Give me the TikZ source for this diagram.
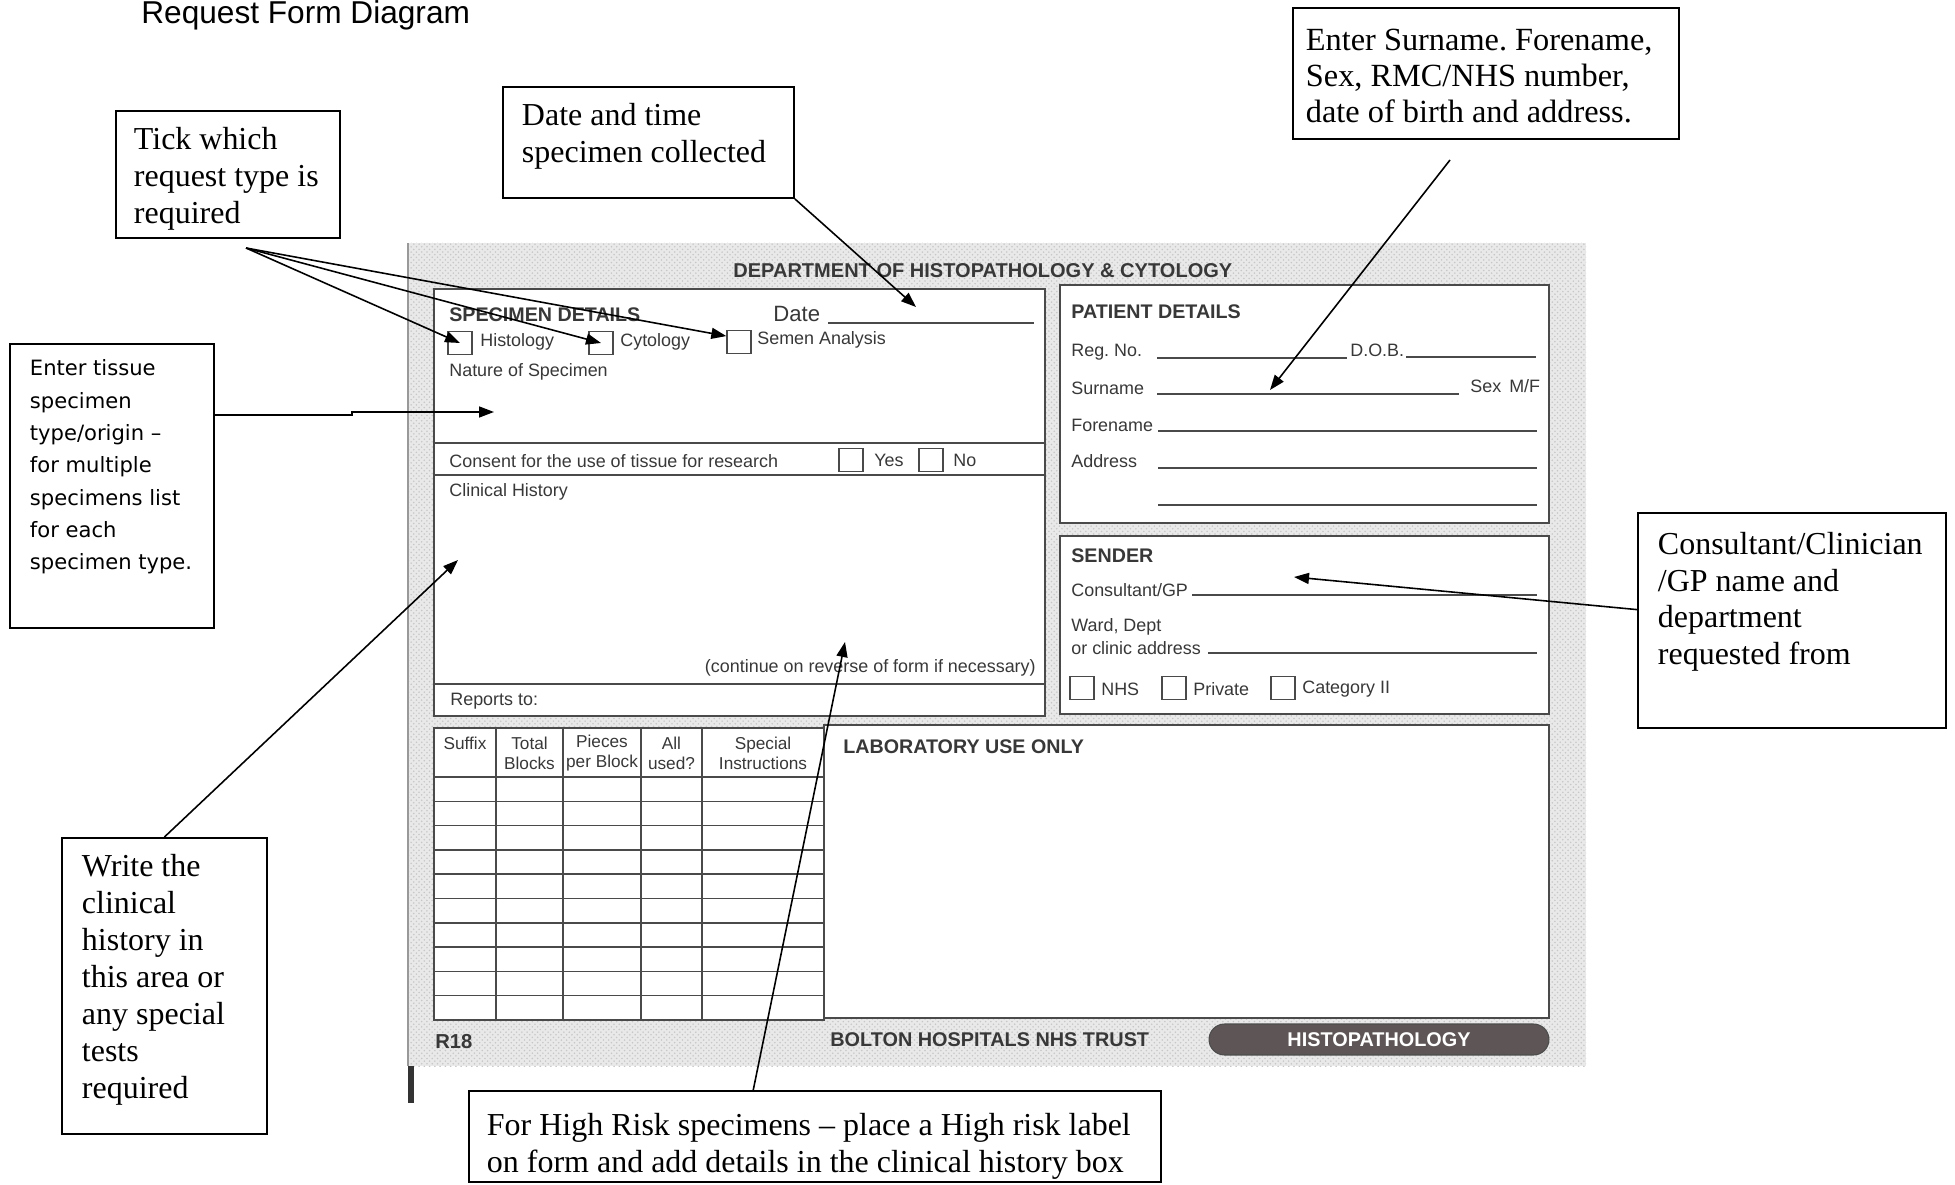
\documentclass[tikz,border=0pt]{standalone}
\usepackage{fontspec}
\setmainfont{Liberation Serif}
\newfontfamily\formfont{Liberation Sans}
\newfontfamily\notefont{DejaVu Sans}
\usepackage{tikz}
\usetikzlibrary{arrows.meta, patterns}
\definecolor{formink}{HTML}{383838}
\definecolor{formline}{HTML}{4A4A4A}
\definecolor{formback}{HTML}{E9E9E9}
\definecolor{pillfill}{HTML}{5E5656}
\frenchspacing
% text block of a call-out: width, height, lines
\newcommand{\calltext}[3]{\vbox to #2{\hsize=#1\parindent=0pt\raggedright #3\par\vss}}

\begin{document}
\begin{tikzpicture}[x=0.02cm, y=-0.02cm,
    callout/.style={draw, line width=1.1pt, anchor=north west, font=\fontsize{18.2}{21}\selectfont},
    pointer/.style={line width=0.9pt, -{Triangle[length=0.3cm, width=0.22cm]}},
    formbox/.style={draw=formline, line width=1.1pt, fill=white},
    formrule/.style={draw=formline, line width=0.8pt},
    formtxt/.style={anchor=west, inner sep=0pt, text=formink, font=\formfont\fontsize{10.2}{12.2}\selectfont},
    formhead/.style={formtxt, font=\formfont\bfseries\fontsize{11.2}{13}\selectfont},
    colhead/.style={inner sep=0pt, align=center, text=formink, font=\formfont\fontsize{9.8}{11.4}\selectfont},
    tickbox/.style={draw=formline, line width=0.8pt, fill=white, inner sep=0pt, minimum width=0.48cm, minimum height=0.46cm},
  ]
  \useasboundingbox (0,0) rectangle (1955,1185);

  \node[anchor=base west, inner sep=0pt, font=\formfont\fontsize{18}{21}\selectfont] (title) at (141,24) {Request Form Diagram};

  % the scanned form
  \fill[formback] (408,243) rectangle (1586,1066);
  \fill[pattern=crosshatch dots, pattern color=black!22] (408,243) rectangle (1586,1066);
  \draw[black!40, line width=0.8pt] (408,243) -- (408,1066);
  \fill[black!80] (408,1066) rectangle (414,1103);

  \node[formhead, font=\formfont\bfseries\fontsize{11.4}{13}\selectfont] (dept) at (733,271) {DEPARTMENT OF HISTOPATHOLOGY \& CYTOLOGY};

  % specimen details
  \draw[formbox] (434,289) rectangle (1045,716);
  \node[formhead] (spechead) at (449,315) {SPECIMEN DETAILS};
  \node[formtxt, font=\formfont\fontsize{12.6}{15}\selectfont] (datelbl) at (773,314) {Date};
  \draw[formrule] (828,323) -- (1034,323);
  \node[tickbox] (histbox) at (460,343) {};
  \node[formtxt] (histlbl) at (480,342) {Histology};
  \node[tickbox] (cytobox) at (601,343) {};
  \node[formtxt] (cytolbl) at (620,342) {Cytology};
  \node[tickbox] (semenbox) at (739,342) {};
  \node[formtxt] (semenlbl) at (757,340) {Semen Analysis};
  \node[formtxt] (naturelbl) at (449,372) {Nature of Specimen};
  \draw[formrule] (434,443) -- (1045,443);
  \node[formtxt] (consentlbl) at (449,461) {Consent for the use of tissue for research};
  \node[tickbox] (yesbox) at (851,460) {};
  \node[formtxt] (yeslbl) at (874,460) {Yes};
  \node[tickbox] (nobox) at (931,460) {};
  \node[formtxt] (nolbl) at (953,460) {No};
  \draw[formrule] (434,475) -- (1045,475);
  \node[formtxt] (clinlbl) at (449,492) {Clinical History};
  \node[formtxt, anchor=east] (contlbl) at (1036,668) {(continue on reverse of form if necessary)};
  \draw[formrule] (434,684) -- (1045,684);
  \node[formtxt] (reportlbl) at (450,701) {Reports to:};

  % patient details
  \draw[formbox] (1060,285) rectangle (1549,523);
  \node[formhead] (pathead) at (1071,312) {PATIENT DETAILS};
  \node[formtxt] (reglbl) at (1071,352) {Reg. No.};
  \draw[formrule] (1157,358) -- (1347,358);
  \node[formtxt] (doblbl) at (1350,350) {D.O.B.};
  \draw[formrule] (1406,357) -- (1536,357);
  \node[formtxt] (surlbl) at (1071,388) {Surname};
  \draw[formrule] (1157,394) -- (1459,394);
  \node[formtxt] (sexlbl) at (1470,386) {Sex\hspace{0.45em}M/F};
  \node[formtxt] (forelbl) at (1071,425) {Forename};
  \draw[formrule] (1158,431) -- (1537,431);
  \node[formtxt] (addrlbl) at (1071,461) {Address};
  \draw[formrule] (1158,468) -- (1537,468);
  \draw[formrule] (1158,505) -- (1537,505);

  % sender
  \draw[formbox] (1060,536) rectangle (1549,714);
  \node[formhead] (sendhead) at (1071,556) {SENDER};
  \node[formtxt] (gplbl) at (1071,590) {Consultant/GP};
  \draw[formrule] (1192,595) -- (1537,595);
  \node[formtxt] (wardlbl) at (1071,627) {Ward, Dept};
  \node[formtxt] (cliniclbl) at (1071,648) {or clinic address};
  \draw[formrule] (1208,653) -- (1537,653);
  \node[tickbox] (nhsbox) at (1082,688) {};
  \node[formtxt] (nhslbl) at (1101,689) {NHS};
  \node[tickbox] (privbox) at (1174,688) {};
  \node[formtxt] (privlbl) at (1193,689) {Private};
  \node[tickbox] (catbox) at (1283,688) {};
  \node[formtxt] (catlbl) at (1302,689) {Category II};

  % blocks table and lab box
  \draw[formbox] (824,725) rectangle (1549,1018);
  \node[formhead] (labhead) at (843,747) {LABORATORY USE ONLY};
  \draw[formbox] (434,728) rectangle (824,1020);
  \foreach \cx in {496,563,641,702}
    \draw[formrule] (\cx,728) -- (\cx,1020);
  \foreach \k in {0,...,9}
    \draw[formrule] (434,{777+24.3*\k}) -- (824,{777+24.3*\k});
  \node[colhead] (suffixhd) at (465,743) {Suffix};
  \node[colhead] (totalhd) at (529.5,753) {Total\\Blocks};
  \node[colhead] (pieceshd) at (602,753) {Pieces\\per Block};
  \node[colhead] (usedhd) at (671.5,753) {All\\used?};
  \node[colhead] (specialhd) at (763,753) {Special\\Instructions};

  % footer
  \node[formhead, font=\formfont\bfseries\fontsize{11.5}{13}\selectfont] (formno) at (435,1042) {R18};
  \node[formhead, font=\formfont\bfseries\fontsize{11.3}{13}\selectfont] (trust) at (830,1040) {BOLTON HOSPITALS NHS TRUST};
  \node[draw=black!70, line width=0.6pt, fill=pillfill, rounded corners=0.31cm, minimum width=6.8cm, minimum height=0.62cm,
    inner sep=0pt, text=white, font=\formfont\bfseries\fontsize{11.3}{13}\selectfont] (pill) at (1379,1039.5) {HISTOPATHOLOGY};

  % call-outs
  \node[callout, inner xsep=0.36cm, inner ysep=0.33cm] (tick) at (115,110)
    {\calltext{3.76cm}{1.88cm}{Tick which\\request type is\\required}};
  \node[callout, inner xsep=0.38cm, inner ysep=0.33cm] (datebox) at (502,86)
    {\calltext{5.06cm}{1.56cm}{Date and time\\specimen collected}};
  \node[callout, inner xsep=0.26cm, inner ysep=0.43cm, font=\fontsize{18.4}{20.5}\selectfont] (namebox) at (1292,7)
    {\calltext{7.2cm}{1.76cm}{Enter Surname. Forename,\\Sex, RMC/NHS number,\\date of birth and address.}};
  \node[callout, inner xsep=0.4cm, inner ysep=0.32cm, font=\notefont\fontsize{12}{18.4}\selectfont] (tissue) at (9,343)
    {\calltext{3.28cm}{5.04cm}{Enter tissue\\specimen\\type/origin –\\for multiple\\specimens list\\for each\\specimen type.}};
  \node[callout, inner xsep=0.4cm, inner ysep=0.33cm] (history) at (61,837)
    {\calltext{3.3cm}{5.26cm}{Write the\\clinical\\history in\\this area or\\any special\\tests\\required}};
  \node[callout, inner xsep=0.4cm, inner ysep=0.38cm] (consult) at (1637,512)
    {\calltext{5.36cm}{3.54cm}{Consultant/Clinician\\/GP name and\\department\\requested from}};
  \node[callout, inner xsep=0.36cm, inner ysep=0.44cm] (highrisk) at (468,1090)
    {\calltext{13.12cm}{0.94cm}{For High Risk specimens – place a High risk label\\on form and add details in the clinical history box}};

  \coordinate (tickfoot) at (246,248);
  \coordinate (datetip) at (916,307);
  \coordinate (namefoot) at (1450,160);
  \coordinate (nametip) at (1270,390);
  \coordinate (tissuejog) at (352,415);
  \coordinate (tissuetip) at (494,412);
  \coordinate (historytip) at (458,560);
  \coordinate (sendertip) at (1294,577);
  \coordinate (risktip) at (845,642);

  \draw[pointer] (tickfoot) -- (histbox.center);
  \draw[pointer] (tickfoot) -- (cytobox.center);
  \draw[pointer] (tickfoot) -- (semenbox.155);
  \draw[pointer] (datebox.south east) -- (datetip);
  \draw[pointer] (namefoot) -- (nametip);
  \draw[pointer] (tissue.east |- tissuejog) -- (tissuejog) |- (tissuetip);
  \draw[pointer] (history.north) -- (historytip);
  \draw[pointer] (consult.176) -- (sendertip);
  \draw[pointer] (highrisk.143) -- (risktip);
\end{tikzpicture}
\end{document}
